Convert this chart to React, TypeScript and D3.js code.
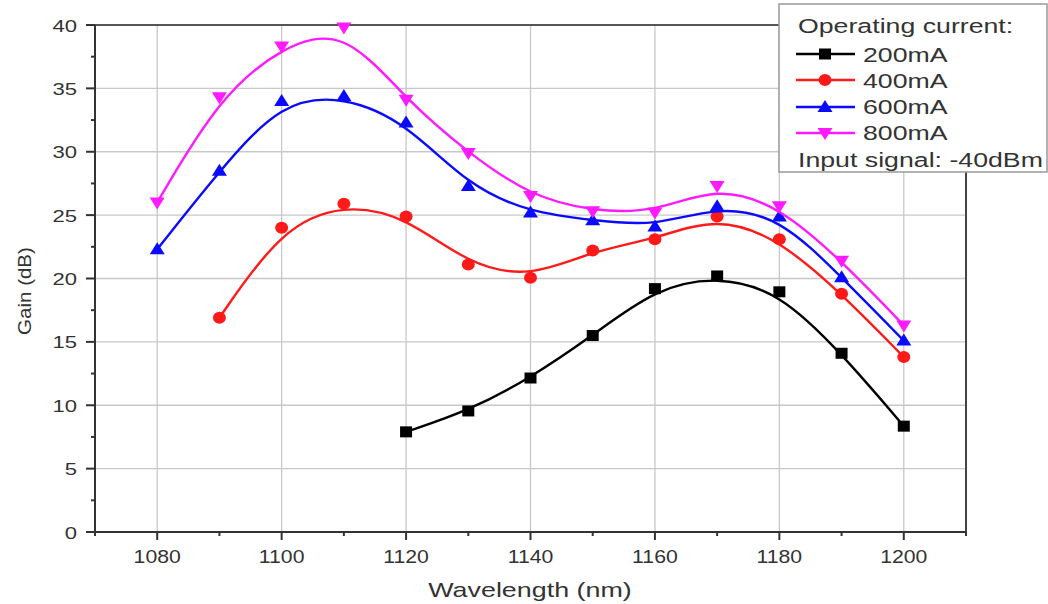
import React from "react";
import * as d3 from "d3";

const wavelengths = [1080, 1090, 1100, 1110, 1120, 1130, 1140, 1150, 1160, 1170, 1180, 1190, 1200];
const gain200 = [null, null, null, null, 7.9, 9.55, 12.15, 15.5, 19.2, 20.2, 18.95, 14.1, 8.35];
const gain400 = [null, 16.9, 24.0, 25.9, 24.9, 21.1, 20.05, 22.2, 23.1, 24.9, 23.1, 18.8, 13.8];
const gain600 = [22.3, 28.5, 34.0, 34.4, 32.3, 27.3, 25.2, 24.6, 24.1, 25.7, 24.9, 20.1, 15.1];
const gain800 = [26.0, 34.3, 38.3, 39.8, 34.1, 29.9, 26.5, 25.3, 25.2, 27.3, 25.7, 21.4, 16.3];
const seriesNames = ["200mA", "400mA", "600mA", "800mA"];
const seriesColors = ["#000000", "#ff1a1a", "#0a0aff", "#ff1aff"];
const seriesMarkers = ["square", "circle", "triangle", "triangleDown"];
const xTicks = [1080, 1100, 1120, 1140, 1160, 1180, 1200];
const yTicks = [0, 5, 10, 15, 20, 25, 30, 35, 40];

const W = 1048, H = 604;
const M = { left: 95, right: 966, top: 25, bottom: 532 };

function Marker({ type, x, y, color }: { type: string; x: number; y: number; color: string }) {
  if (type === "square") return <rect x={x - 6} y={y - 5.5} width={12} height={11} fill={color} />;
  if (type === "circle") return <ellipse cx={x} cy={y} rx={6.5} ry={6} fill={color} />;
  if (type === "triangle")
    return <path d={`M${x},${y - 7} L${x + 7.5},${y + 5} L${x - 7.5},${y + 5} Z`} fill={color} />;
  return <path d={`M${x},${y + 7} L${x + 7.5},${y - 5} L${x - 7.5},${y - 5} Z`} fill={color} />;
}

function SText({
  x, y, sx = 1, size, anchor = "start", children,
}: { x: number; y: number; sx?: number; size: number; anchor?: string; children: React.ReactNode }) {
  return (
    <text transform={`translate(${x},${y}) scale(${sx},1)`} textAnchor={anchor as any} fontSize={size} fill="#333">
      {children}
    </text>
  );
}

export default function App() {
  const x = d3.scaleLinear().domain([1070, 1210]).range([M.left, M.right]);
  const y = d3.scaleLinear().domain([0, 40]).range([M.bottom, M.top]);
  const allSeries = [gain200, gain400, gain600, gain800];
  const xMinor = d3.range(1070, 1211, 10).filter((v) => !xTicks.includes(v));
  const yMinor = d3.range(2.5, 40, 5);
  const font = "Arial, 'Liberation Sans', sans-serif";
  const line = d3
    .line<[number, number]>()
    .x((d) => x(d[0]))
    .y((d) => y(d[1]))
    .curve(d3.curveBasis);
  const legendLineY = [54, 80, 107, 133];
  const legendTextY = [62, 88, 114, 140];

  return (
    <svg width={W} height={H} style={{ position: "absolute", left: 0, top: 0, background: "#fff" }} fontFamily={font}>
      {/* grid */}
      {xTicks.map((t) => (
        <line key={"gx" + t} x1={x(t)} x2={x(t)} y1={M.top} y2={M.bottom} stroke="#c8c8c8" strokeWidth={1.3} />
      ))}
      {yTicks.slice(1, -1).map((t) => (
        <line key={"gy" + t} x1={M.left} x2={M.right} y1={y(t)} y2={y(t)} stroke="#c8c8c8" strokeWidth={1.3} />
      ))}
      {/* frame */}
      <line x1={M.left} x2={M.right} y1={M.top} y2={M.top} stroke="#555" strokeWidth={2} />
      <line x1={M.right} x2={M.right} y1={M.top} y2={M.bottom} stroke="#444" strokeWidth={2} />
      <line x1={M.left} x2={M.right} y1={M.bottom} y2={M.bottom} stroke="#333" strokeWidth={2} />
      <line x1={M.left} x2={M.left} y1={M.top} y2={M.bottom} stroke="#333" strokeWidth={2} />
      {/* x ticks */}
      {xTicks.map((t) => (
        <g key={"xt" + t}>
          <line x1={x(t)} x2={x(t)} y1={M.bottom} y2={M.bottom + 8} stroke="#333" strokeWidth={2} />
          <SText x={x(t)} y={M.bottom + 31} sx={1.18} size={18} anchor="middle">
            {t}
          </SText>
        </g>
      ))}
      {xMinor.map((t) => (
        <line key={"xm" + t} x1={x(t)} x2={x(t)} y1={M.bottom} y2={M.bottom + 4} stroke="#333" strokeWidth={2} />
      ))}
      {/* y ticks */}
      {yTicks.map((t) => (
        <g key={"yt" + t}>
          <line x1={M.left - 9} x2={M.left} y1={y(t)} y2={y(t)} stroke="#333" strokeWidth={2} />
          <SText x={M.left - 18} y={y(t) + 6.5} sx={1.3} size={17} anchor="end">
            {t}
          </SText>
        </g>
      ))}
      {yMinor.map((t) => (
        <line key={"ym" + t} x1={M.left - 4} x2={M.left} y1={y(t)} y2={y(t)} stroke="#333" strokeWidth={2} />
      ))}
      {/* titles */}
      <SText x={530} y={597} sx={1.28} size={21} anchor="middle">
        Wavelength (nm)
      </SText>
      <text transform={`translate(31, 291) rotate(-90) scale(1.08,1)`} textAnchor="middle" fontSize={19} fill="#333">
        Gain (dB)
      </text>
      {/* series */}
      {allSeries.map((s, i) => {
        const pts = wavelengths
          .map((w, j) => [w, s[j]] as [number, number | null])
          .filter((d) => d[1] !== null) as [number, number][];
        return (
          <g key={"s" + i}>
            <path d={line(pts) || ""} fill="none" stroke={seriesColors[i]} strokeWidth={2.4} />
            {pts.map((p, k) => (
              <Marker key={k} type={seriesMarkers[i]} x={x(p[0])} y={y(p[1])} color={seriesColors[i]} />
            ))}
          </g>
        );
      })}
      {/* legend */}
      <rect x={779} y={4} width={268} height={168} fill="#fff" stroke="#999" strokeWidth={1.5} />
      <SText x={798} y={33} sx={1.37} size={19.5}>
        Operating current:
      </SText>
      {seriesNames.map((n, i) => (
        <g key={"lg" + i}>
          <line x1={796} x2={855} y1={legendLineY[i]} y2={legendLineY[i]} stroke={seriesColors[i]} strokeWidth={2.4} />
          <Marker type={seriesMarkers[i]} x={825} y={legendLineY[i]} color={seriesColors[i]} />
          <SText x={863} y={legendTextY[i]} sx={1.37} size={19.5}>
            {n}
          </SText>
        </g>
      ))}
      <SText x={798} y={167} sx={1.37} size={19.5}>
        Input signal: -40dBm
      </SText>
    </svg>
  );
}
